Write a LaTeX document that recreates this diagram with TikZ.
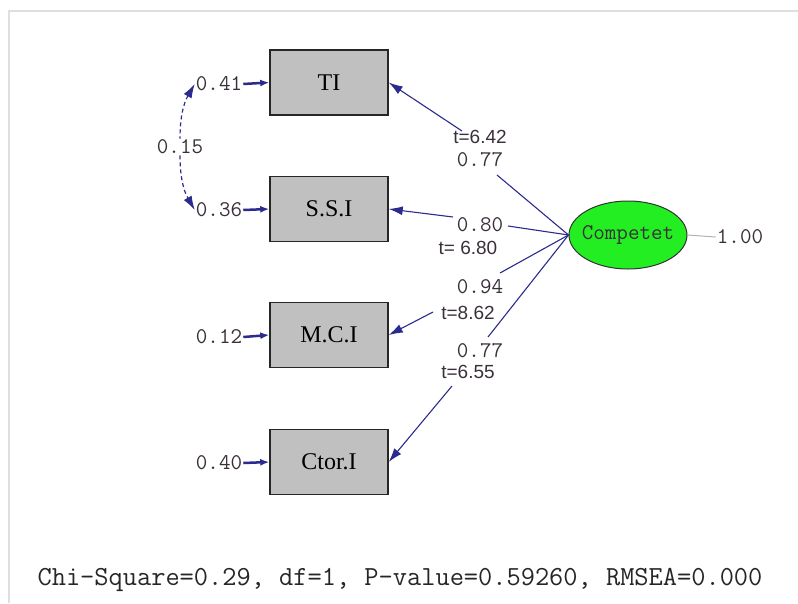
\documentclass[tikz,border=0pt]{standalone}
\usepackage{fontspec}
\setmainfont{Liberation Serif}
\newfontfamily\tvalfont{Liberation Sans}
\usepackage{tikz}
\usetikzlibrary{arrows.meta,shapes.geometric}
\definecolor{pathc}{HTML}{2B2B8F}
\definecolor{latc}{HTML}{22EE22}
\definecolor{obsc}{HTML}{C0C0C0}
\definecolor{numc}{HTML}{3A303A}
\tikzset{>={Latex[length=14pt,width=9pt]},
  obs/.style={draw=black!85,line width=1.4pt,fill=obsc,minimum width=118pt,
    minimum height=65pt,inner sep=0pt,font=\fontsize{24}{24}\selectfont},
  lat/.style={ellipse,draw=black!80,line width=1pt,fill=latc,minimum width=118pt,
    minimum height=68pt,inner sep=0pt},
  num/.style={text=numc,inner sep=1pt,font=\ttfamily\fontsize{22.4}{22}\selectfont},
  tval/.style={text=numc,inner sep=1pt,font=\tvalfont\fontsize{19}{19}\selectfont},
  ld/.style={draw=pathc,line width=1.1pt},
  err/.style={draw=pathc,line width=2.5pt,-{Latex[length=9pt,width=7pt]}},
  cov/.style={draw=pathc,line width=1.2pt,dash pattern=on 4pt off 3pt}
}
\begin{document}
\begin{tikzpicture}[x=1pt,y=-1pt]
\useasboundingbox (0,0) rectangle (798,603);
\draw[gray!25,line width=2pt] (9,603) -- (9,11) -- (798,11);
% observed variables
\node[obs] (TI) at (329,82.5) {TI};
\node[obs] (SSI) at (329,209) {S.S.I};
\node[obs] (MCI) at (329,335) {M.C.I};
\node[obs] (CTI) at (329,462) {Ctor.I};
\node[lat,label={[num]center:Competet}] (comp) at (628,235) {};
\node[num] (one) at (740,237) {1.00};
\draw[gray!60,line width=1pt] (comp.east) -- (one.west);
% error variances
\node[num] (e1) at (219,84) {0.41};
\node[num] (e2) at (219,210) {0.36};
\node[num] (e3) at (219,337) {0.12};
\node[num] (e4) at (219,463) {0.40};
\draw[err] (e1.east) -- (TI.west);
\draw[err] (e2.east) -- (SSI.west);
\draw[err] (e3.east) -- (MCI.west);
\draw[err] (e4.east) -- (CTI.west);
\node[num] (c12) at (180,147) {0.15};
\draw[cov,<-] (e1.west) to[out=240,in=90] (c12.north);
\draw[cov,->] (c12.south) to[out=270,in=120] (e2.west);
% loadings
\node[num] (v1) at (480,160) {0.77};
\node[tval] (t1) at (480,137) {t=6.42};
\node[num] (v2) at (480,225) {0.80};
\node[tval] (t2) at (468,248) {t= 6.80};
\node[num] (v3) at (480,287) {0.94};
\node[tval] (t3) at (468,313) {t=8.62};
\node[num] (v4) at (480,351) {0.77};
\node[tval] (t4) at (468,372) {t=6.55};
\coordinate (k1) at (497,175); \coordinate (h1) at (462,131);
\coordinate (k2) at (508,226); \coordinate (h2) at (453,217);
\coordinate (k3) at (500,273); \coordinate (h3) at (433,312);
\coordinate (k4) at (488,337); \coordinate (h4) at (452,386);
\draw[ld] (comp.west) -- (k1); \draw[ld,->] (h1) -- (TI.east);
\draw[ld] (comp.west) -- (k2); \draw[ld,->] (h2) -- (SSI.east);
\draw[ld] (comp.west) -- (k3); \draw[ld,->] (h3) -- (MCI.east);
\draw[ld] (comp.west) -- (k4); \draw[ld,->] (h4) -- (CTI.east);
\node[text=black!85,font=\ttfamily\fontsize{27.6}{27}\selectfont] (fitline) at (400,580)
  {Chi-Square=0.29, df=1, P-value=0.59260, RMSEA=0.000};
\end{tikzpicture}
\end{document}
